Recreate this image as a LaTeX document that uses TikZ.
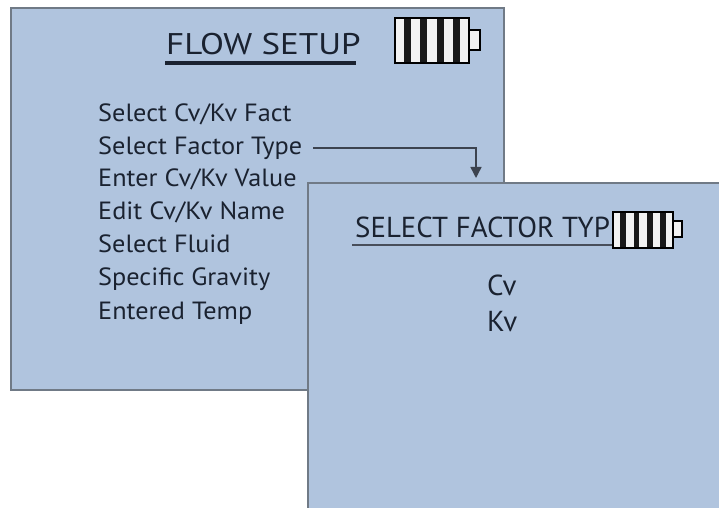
\documentclass[tikz,border=0pt]{standalone}
\usepackage{fontspec}
\setmainfont{PT Sans}
\usetikzlibrary{arrows.meta}
\definecolor{panelfill}{RGB}{176,196,222}
\definecolor{panelborder}{RGB}{112,122,134}
\definecolor{ink}{RGB}{26,34,48}
\tikzset{
  panel/.style={draw=panelborder, line width=2.4bp, fill=panelfill, inner sep=0pt},
  listitem/.style={anchor=base west, inner sep=0pt, text=ink, font=\fontsize{25}{30}\selectfont, xscale=1.055},
  choice/.style={anchor=base west, inner sep=0pt, text=ink, font=\fontsize{29}{34}\selectfont},
  conn/.style={draw=ink!85, line width=1.4bp, -{Triangle[length=11bp,width=11bp]}},
  batt/.style={draw=black, line width=1.2bp, fill=white!90!gray},
  stripe/.style={fill=black!90, draw=none}
}
\begin{document}
\begin{tikzpicture}[x=1bp,y=-1bp]
\useasboundingbox (0,0) rectangle (719,508);
\fill[white] (0,0) rectangle (719,508);
\clip (0,0) rectangle (719,508);
% left panel
\draw[panel] (11,8) rectangle (504,390);
\node[anchor=base west, inner sep=0pt, text=ink, font=\fontsize{30}{36}\selectfont] (title1) at (166,55) {\scalebox{1.17}[1]{FLOW SETUP}};
\draw[ink, line width=3.2bp] (165,63) -- (356,63);
% battery 1
\draw[batt] (469,30) rectangle (480,50);
\draw[batt] (395,18) rectangle (469,63);
\foreach \i in {0,1,2,3} {
  \fill[stripe] ({395+9.2+\i*16.2},18) rectangle ({395+9.2+\i*16.2+7},63);
}
\draw[black, line width=1.2bp] (395,18) rectangle (469,63);
% list
\node[listitem] (i1) at (98,122) {Select Cv/Kv Fact};
\node[listitem] (i2) at (98,155) {Select Factor Type};
\node[listitem] (i3) at (98,187) {Enter Cv/Kv Value};
\node[listitem] (i4) at (98,220) {Edit Cv/Kv Name};
\node[listitem] (i5) at (98,253) {Select Fluid};
\node[listitem] (i6) at (98,286) {Specific Gravity};
\node[listitem] (i7) at (98,319) {Entered Temp};
% right panel
\draw[panel] (308,183) rectangle (725,515);
\coordinate (tip) at (476,178);
\coordinate (bend) at (476,148);
\draw[conn] ([xshift=11bp]i2.east |- bend) -- (bend) -- (tip);
\node[anchor=base west, inner sep=0pt, text=ink, font=\fontsize{29}{34}\selectfont] (title2) at (355,238) {SELECT FACTOR TYP};
\draw[ink!80, line width=2bp] (352,245) -- (613,245);
% battery 2
\draw[batt] (673,221) rectangle (682,237);
\draw[batt] (613,212) rectangle (673,248);
\foreach \i in {0,1,2,3} {
  \fill[stripe] ({613+7.3+\i*13.2},212) rectangle ({613+7.3+\i*13.2+5.8},248);
}
\draw[black, line width=1.2bp] (613,212) rectangle (673,248);
\node[choice] (cv) at (487,295) {Cv};
\node[choice] (kv) at (487,331) {Kv};
\end{tikzpicture}
\end{document}
